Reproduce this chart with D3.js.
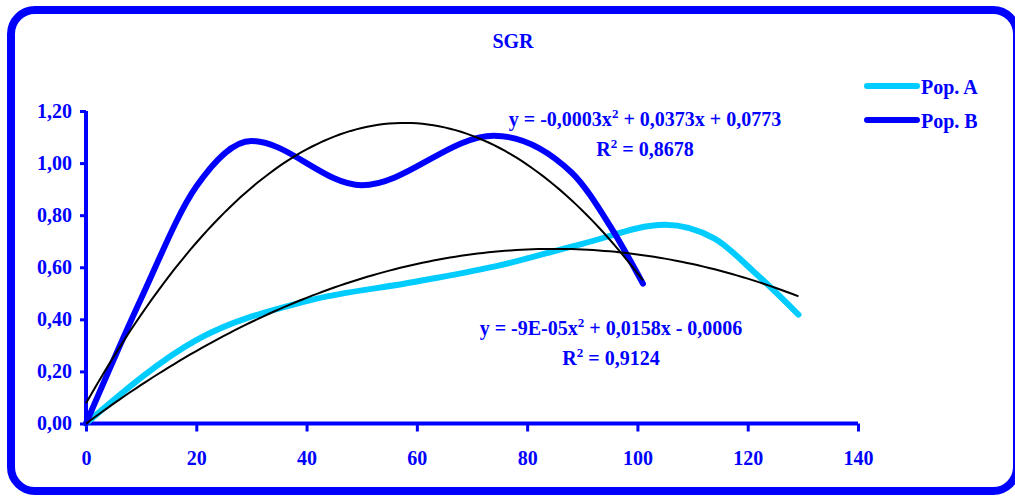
<!DOCTYPE html>
<html>
<head>
<meta charset="utf-8">
<script src="https://cdn.jsdelivr.net/npm/d3@7.9.0/dist/d3.min.js"></script>
<style>
  html, body { margin: 0; padding: 0; background: #fff; }
  svg { display: block; }
  text { font-family: "Liberation Serif", "Times New Roman", serif; font-weight: bold; fill: #0000ff; }
</style>
</head>
<body>
<svg id="chart" width="1015" height="496"></svg>
<script>
// data
const popA = [[0, 0], [20, 0.32], [40, 0.47], [60, 0.545], [75, 0.607], [90, 0.69],
  [105, 0.763], [114, 0.71], [121, 0.585], [129.2, 0.418]];
const popB = [[0, 0], [10, 0.48], [20, 0.91], [30, 1.085], [50, 0.915], [74, 1.105],
  [88, 0.965], [95, 0.76], [101, 0.537]];

// polynomial trendlines (a x^2 + b x + c)
const trendA = [-9.3e-5, 0.0158, -0.0006];
const trendB = [-3.23e-4, 0.0373, 0.0773];

const xTicks = [0, 20, 40, 60, 80, 100, 120, 140];
const yTicks = [0, 0.2, 0.4, 0.6, 0.8, 1.0, 1.2];
const seriesNames = ['Pop. A', 'Pop. B'];
const seriesColors = ['#00ccff', '#0000ff'];

const svg = d3.select('#chart');
const blue = '#0000ff';

// outer rounded frame
svg.append('rect')
  .attr('x', 11).attr('y', 10)
  .attr('width', 1006).attr('height', 481)
  .attr('rx', 24).attr('ry', 24)
  .attr('fill', '#fff')
  .attr('stroke', blue)
  .attr('stroke-width', 8);

const x = d3.scaleLinear().domain([0, 140]).range([86, 858]);
const y = d3.scaleLinear().domain([0, 1.2]).range([423.5, 111]);

const fmt = (d) => d3.format('.2f')(d).replace('.', ',');

// y axis
const yAxis = svg.append('g')
  .attr('transform', `translate(${x(0)},0)`)
  .call(d3.axisLeft(y).tickValues(yTicks).tickSize(6).tickPadding(8).tickFormat(fmt));
yAxis.select('.domain').attr('stroke', blue).attr('stroke-width', 4)
  .attr('d', `M0,${y(1.2)}V${y(0)}`);
yAxis.selectAll('.tick line').attr('stroke', blue).attr('stroke-width', 3);
yAxis.selectAll('.tick text').attr('font-size', 20).attr('fill', blue)
  .style('font-family', '"Liberation Serif", serif').style('font-weight', 'bold');

// x axis
const xAxis = svg.append('g')
  .attr('transform', `translate(0,${y(0)})`)
  .call(d3.axisBottom(x).tickValues(xTicks).tickSize(8).tickPadding(19));
xAxis.select('.domain').attr('stroke', blue).attr('stroke-width', 4)
  .attr('d', `M${x(0)},0H${x(140)}`);
xAxis.selectAll('.tick line').attr('stroke', blue).attr('stroke-width', 3);
xAxis.selectAll('.tick text').attr('font-size', 20).attr('fill', blue)
  .style('font-family', '"Liberation Serif", serif').style('font-weight', 'bold');

// series lines
const line = d3.line()
  .x((d) => x(d[0]))
  .y((d) => y(d[1]))
  .curve(d3.curveMonotoneX);

[popA, popB].forEach((data, i) => {
  svg.append('path')
    .attr('d', line(data))
    .attr('fill', 'none')
    .attr('stroke', seriesColors[i])
    .attr('stroke-width', 6)
    .attr('stroke-linecap', 'round')
    .attr('stroke-linejoin', 'round');
});

// trendlines
const poly = (c) => (v) => c[0] * v * v + c[1] * v + c[2];
[[trendA, popA], [trendB, popB]].forEach(([coef, data]) => {
  const xMax = data[data.length - 1][0];
  const f = poly(coef);
  const pts = d3.range(0, xMax, 1).concat([xMax]).map((v) => [v, f(v)]);
  svg.append('path')
    .attr('d', d3.line().x((d) => x(d[0])).y((d) => y(d[1]))(pts))
    .attr('fill', 'none')
    .attr('stroke', '#000')
    .attr('stroke-width', 2);
});

// title
svg.append('text')
  .attr('x', 513).attr('y', 48)
  .attr('text-anchor', 'middle')
  .attr('font-size', 20)
  .text('SGR');

// equations
function equation(cx, cy, parts, r2) {
  const t = svg.append('text').attr('x', cx).attr('y', cy)
    .attr('text-anchor', 'middle').attr('font-size', 20);
  t.append('tspan').text(parts[0]);
  t.append('tspan').attr('dy', -8).attr('font-size', 13).text('2');
  t.append('tspan').attr('dy', 8).text(parts[1]);
  const r = svg.append('text').attr('x', cx).attr('y', cy + 30)
    .attr('text-anchor', 'middle').attr('font-size', 20);
  r.append('tspan').text('R');
  r.append('tspan').attr('dy', -8).attr('font-size', 13).text('2');
  r.append('tspan').attr('dy', 8).text(' = ' + r2);
}
equation(645, 126, ['y = -0,0003x', ' + 0,0373x + 0,0773'], '0,8678');
equation(611, 335, ['y = -9E-05x', ' + 0,0158x - 0,0006'], '0,9124');

// legend
const legendY = [86, 120];
seriesNames.forEach((name, i) => {
  svg.append('line')
    .attr('x1', 867).attr('x2', 917)
    .attr('y1', legendY[i]).attr('y2', legendY[i])
    .attr('stroke', seriesColors[i])
    .attr('stroke-width', 6)
    .attr('stroke-linecap', 'round');
  svg.append('text')
    .attr('x', 921).attr('y', legendY[i] + 8)
    .attr('font-size', 20)
    .text(name);
});
</script>
</body>
</html>
